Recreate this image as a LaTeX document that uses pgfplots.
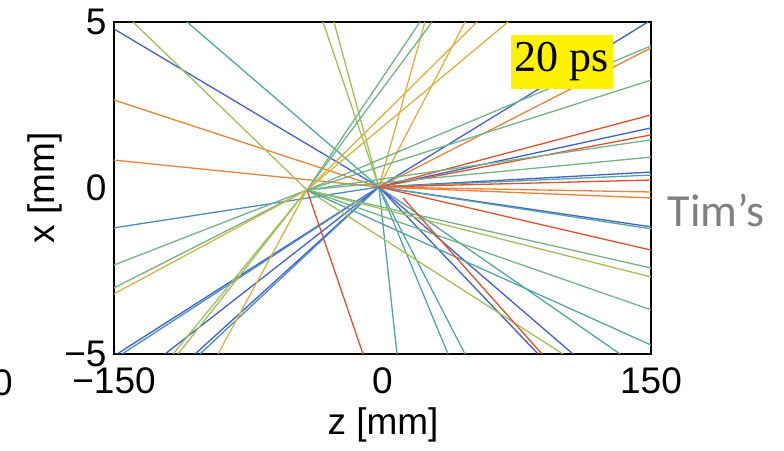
\documentclass[border=0pt]{standalone}
\usepackage{pgfplots}
\pgfplotsset{compat=1.18}
\usepackage{fontspec}
\setmainfont{Liberation Sans}
\newfontfamily\timesfont{Liberation Serif}
\newfontfamily\calfont{Carlito}
\definecolor{myblue}{RGB}{65,95,205}
\definecolor{mysteel}{RGB}{75,140,195}
\definecolor{myteal}{RGB}{85,165,165}
\definecolor{mygreen}{RGB}{115,180,135}
\definecolor{mylime}{RGB}{160,192,90}
\definecolor{myyellow}{RGB}{215,180,65}
\definecolor{myorange}{RGB}{235,130,55}
\definecolor{myred}{RGB}{225,80,45}
\definecolor{tickgray}{RGB}{128,128,128}
\newcommand{\trk}[5]{\addplot[#1] coordinates {(#2,#3) (#4,#5)};}
\begin{document}
\begin{tikzpicture}
\useasboundingbox (0,0) rectangle (784pt,450pt);
\begin{axis}[
  at={(114pt,96pt)}, anchor=south west,
  width=537pt, height=332pt, scale only axis,
  xmin=-150, xmax=150, ymin=-5, ymax=5,
  xtick={-150,0,150}, xticklabels={−150,0,150},
  ytick={-5,0,5}, yticklabels={−5,0,5},
  major tick length=0pt,
  tick label style={font=\fontsize{37}{40}\selectfont},
  xticklabel style={yshift=-10pt},
  yticklabel style={xshift=-4pt},
  axis line style={line width=2.6pt},
  every axis plot/.append style={line width=1.3pt},
  clip=true,
]
% ---- tracks from vertex 2 (z=-2.0, x=0.03)
\trk{myblue}{-2.0}{0.03}{-150}{4.79}
\trk{myorange}{-2.0}{0.03}{-150}{2.65}
\trk{myorange}{-2.0}{0.03}{-150}{0.84}
\trk{mysteel}{-2.0}{0.03}{-150}{-1.20}
\trk{myteal}{-2.0}{0.03}{-109.2}{5}
\trk{mylime}{-2.0}{0.03}{-33.2}{5}
\trk{mylime}{-2.0}{0.03}{-27.1}{5}
\trk{myyellow}{-2.0}{0.03}{23.7}{5}
\trk{myyellow}{-2.0}{0.03}{46.1}{5}
\trk{myblue}{-2.0}{0.03}{148.3}{5}
\trk{myblue}{-2.0}{0.03}{-148.3}{-5}
\trk{mysteel}{-2.0}{0.03}{-145.5}{-5}
\trk{myblue}{-2.0}{0.03}{-121.5}{-5}
\trk{myblue}{-2.0}{0.03}{-104.7}{-5}
\trk{mysteel}{-2.0}{0.03}{-102.0}{-5}
\trk{myteal}{-2.0}{0.03}{8.1}{-5}
\trk{myteal}{-2.0}{0.03}{36.6}{-5}
\trk{myteal}{-2.0}{0.03}{46.1}{-5}
\trk{myblue}{-2.0}{0.03}{86.9}{-5}
\trk{myblue}{-2.0}{0.03}{106.4}{-5}
\trk{myteal}{-2.0}{0.03}{132.7}{-5}
\trk{myorange}{-2.0}{0.03}{150}{4.22}
\trk{myred}{-2.0}{0.03}{150}{2.20}
\trk{myblue}{-2.0}{0.03}{150}{1.81}
\trk{myred}{-2.0}{0.03}{150}{1.60}
\trk{myblue}{-2.0}{0.03}{150}{0.48}
\trk{myteal}{-2.0}{0.03}{150}{0.39}
\trk{myred}{-2.0}{0.03}{150}{0.24}
\trk{myorange}{-2.0}{0.03}{150}{-0.12}
\trk{myorange}{-2.0}{0.03}{150}{-0.30}
\trk{myblue}{-2.0}{0.03}{150}{-1.17}
\trk{myteal}{-2.0}{0.03}{150}{-1.23}
\trk{myred}{-2.0}{0.03}{150}{-1.87}
% ---- tracks from vertex 1 (z=-42.2, x=-0.06)
\trk{mylime}{-42.2}{-0.06}{-139.4}{5}
\trk{mygreen}{-42.2}{-0.06}{20.9}{5}
\trk{mygreen}{-42.2}{-0.06}{27.7}{5}
\trk{myyellow}{-42.2}{-0.06}{52.8}{5}
\trk{myyellow}{-42.2}{-0.06}{70.1}{5}
\trk{mygreen}{-42.2}{-0.06}{-150}{-2.32}
\trk{mygreen}{-42.2}{-0.06}{-150}{-3.01}
\trk{myyellow}{-42.2}{-0.06}{-150}{-3.19}
\trk{mylime}{-42.2}{-0.06}{-117.0}{-5}
\trk{mylime}{-42.2}{-0.06}{-114.2}{-5}
\trk{myyellow}{-42.2}{-0.06}{-91.9}{-5}
\trk{myred}{-42.2}{-0.06}{-10.9}{-5}
\trk{mylime}{-42.2}{-0.06}{100.8}{-5}
\trk{mygreen}{-42.2}{-0.06}{150}{4.28}
\trk{mygreen}{-42.2}{-0.06}{150}{3.25}
\trk{mygreen}{-42.2}{-0.06}{150}{1.45}
\trk{mygreen}{-42.2}{-0.06}{150}{0.93}
\trk{mygreen}{-42.2}{-0.06}{150}{-2.41}
\trk{mylime}{-42.2}{-0.06}{150}{-2.68}
\trk{mygreen}{-42.2}{-0.06}{150}{-3.67}
\trk{myteal}{-42.2}{-0.06}{150}{-4.73}
% ---- displaced track
\trk{myred}{11.5}{-0.30}{89.1}{-5}
\end{axis}
\node[fill=yellow, inner sep=0pt, minimum width=102pt, minimum height=54pt,
      font=\timesfont\fontsize{44}{48}\selectfont] at (562pt,388pt) {20 ps};
\node[font=\fontsize{37}{40}\selectfont] at (383pt,25pt) {z [mm]};
\node[font=\fontsize{37}{40}\selectfont, rotate=90] at (45pt,262pt) {x [mm]};
\node[font=\calfont\fontsize{46}{50}\selectfont, text=tickgray] at (716pt,240pt) {Tim’s};
\node[font=\fontsize{37}{40}\selectfont, anchor=east, inner sep=0pt] at (13pt,67pt) {0};
\end{tikzpicture}
\end{document}
